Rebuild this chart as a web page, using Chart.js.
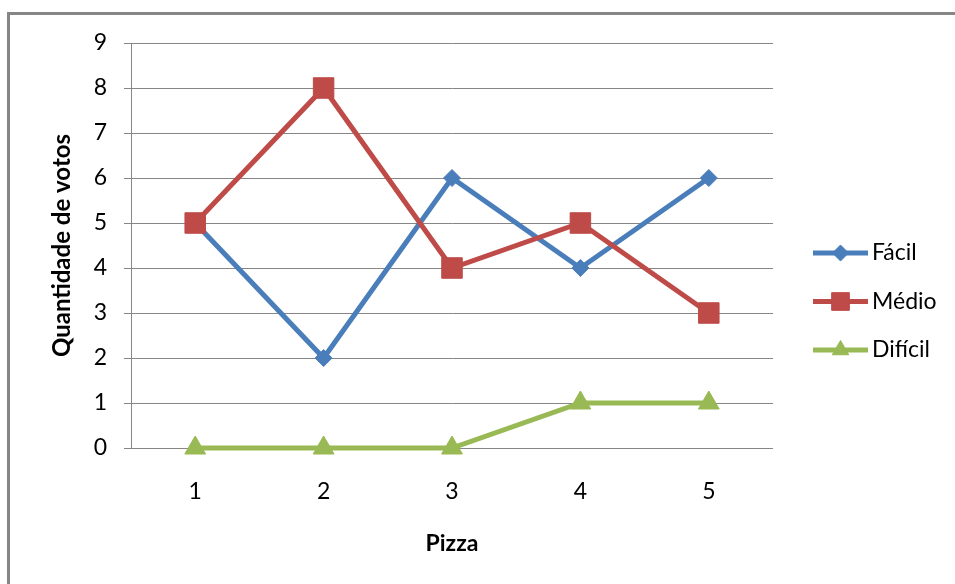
<!DOCTYPE html>
<html>
<head>
<meta charset="utf-8">
<script src="https://cdn.jsdelivr.net/npm/chart.js@4/dist/chart.umd.min.js"></script>
<style>
  html, body { margin: 0; padding: 0; background: #ffffff; }
  #wrap { width: 955px; height: 584px; position: relative; }
</style>
</head>
<body>
<div id="wrap"><canvas id="chart" width="955" height="584"></canvas></div>
<script>
// Votes per pizza, by difficulty
const categories = ['1', '2', '3', '4', '5'];
const facil = [5, 2, 6, 4, 6];
const medio = [5, 8, 4, 5, 3];
const dificil = [0, 0, 0, 1, 1];
const seriesNames = ['Fácil', 'Médio', 'Difícil'];
const yTicks = [0, 1, 2, 3, 4, 5, 6, 7, 8, 9];

const FONT = "Lato, 'Open Sans', sans-serif";
const GRID = '#868686';

// Outer frame of the chart
const framePlugin = {
  id: 'frame',
  beforeDraw(chart) {
    const ctx = chart.ctx;
    ctx.save();
    ctx.fillStyle = '#ffffff';
    ctx.fillRect(0, 0, chart.width, chart.height);
    ctx.strokeStyle = GRID;
    ctx.lineWidth = 3;
    ctx.strokeRect(8.5, 13.5, 1000, 1000);
    ctx.restore();
  }
};

// Legend entries: a short line with the series marker, then the name
const lineLegendPlugin = {
  id: 'lineLegend',
  afterDraw(chart) {
    const ctx = chart.ctx;
    const x1 = 813, x2 = 868, textX = 872;
    const rowY = [253, 301.5, 350];
    ctx.save();
    chart.data.datasets.forEach((ds, i) => {
      const y = rowY[i];
      ctx.strokeStyle = ds.borderColor;
      ctx.lineWidth = ds.borderWidth;
      ctx.beginPath();
      ctx.moveTo(x1, y);
      ctx.lineTo(x2, y);
      ctx.stroke();
      ctx.fillStyle = ds.pointBackgroundColor;
      ctx.strokeStyle = ds.pointBorderColor;
      ctx.lineWidth = 1;
      Chart.helpers.drawPoint(ctx, {
        pointStyle: ds.pointStyle,
        radius: ds.legendRadius,
        rotation: 0,
        borderWidth: 1
      }, (x1 + x2) / 2, y);
      ctx.fillStyle = '#000000';
      ctx.font = '23px ' + FONT;
      ctx.textBaseline = 'middle';
      ctx.textAlign = 'left';
      ctx.fillText(ds.label, textX, y);
    });
    ctx.restore();
  }
};

const datasets = [
  { label: seriesNames[0], data: facil, color: '#4A7EBB', style: 'rectRot', radius: 8.5, legendRadius: 8, order: 3 },
  { label: seriesNames[1], data: medio, color: '#BE4B48', style: 'rect', radius: 14.5, legendRadius: 12.5, order: 2 },
  { label: seriesNames[2], data: dificil, color: '#98B954', style: 'triangle', radius: 12, legendRadius: 9.5, order: 1 }
].map(s => ({
  label: s.label,
  data: s.data,
  order: s.order,
  clip: false,
  borderColor: s.color,
  backgroundColor: s.color,
  pointBackgroundColor: s.color,
  pointBorderColor: s.color,
  pointStyle: s.style,
  pointRadius: s.radius,
  pointHoverRadius: s.radius,
  pointBorderWidth: 1,
  borderWidth: 5,
  tension: 0,
  legendRadius: s.legendRadius
}));

new Chart(document.getElementById('chart'), {
  type: 'line',
  data: { labels: categories, datasets: datasets },
  plugins: [framePlugin, lineLegendPlugin],
  options: {
    responsive: false,
    animation: false,
    devicePixelRatio: 1,
    layout: { padding: { left: 0, top: 43, right: 182, bottom: 0 } },
    plugins: {
      legend: { display: false },
      tooltip: { enabled: false }
    },
    scales: {
      x: {
        type: 'category',
        offset: true,
        grid: { display: false, drawTicks: false, tickLength: 0 },
        border: { display: false },
        ticks: {
          color: '#000000',
          font: { family: FONT, size: 23 },
          padding: 30
        },
        title: {
          display: true,
          text: 'Pizza',
          color: '#000000',
          font: { family: FONT, size: 23, weight: 'bold' },
          padding: { top: 4, bottom: 27 }
        },
        afterFit(scale) { scale.height = 136; }
      },
      y: {
        min: 0,
        max: 9,
        afterBuildTicks(scale) { scale.ticks = yTicks.map(v => ({ value: v })); },
        grid: { color: GRID, lineWidth: 1, tickLength: 7, drawTicks: true },
        border: { display: true, color: GRID, width: 1 },
        ticks: {
          color: '#000000',
          font: { family: FONT, size: 23 },
          padding: 17
        },
        title: {
          display: true,
          text: 'Quantidade de votos',
          color: '#000000',
          font: { family: FONT, size: 24, weight: 'bold' },
          padding: { top: 48, bottom: 0 }
        },
        afterFit(scale) { scale.width = 131; }
      }
    }
  }
});
</script>
</body>
</html>
